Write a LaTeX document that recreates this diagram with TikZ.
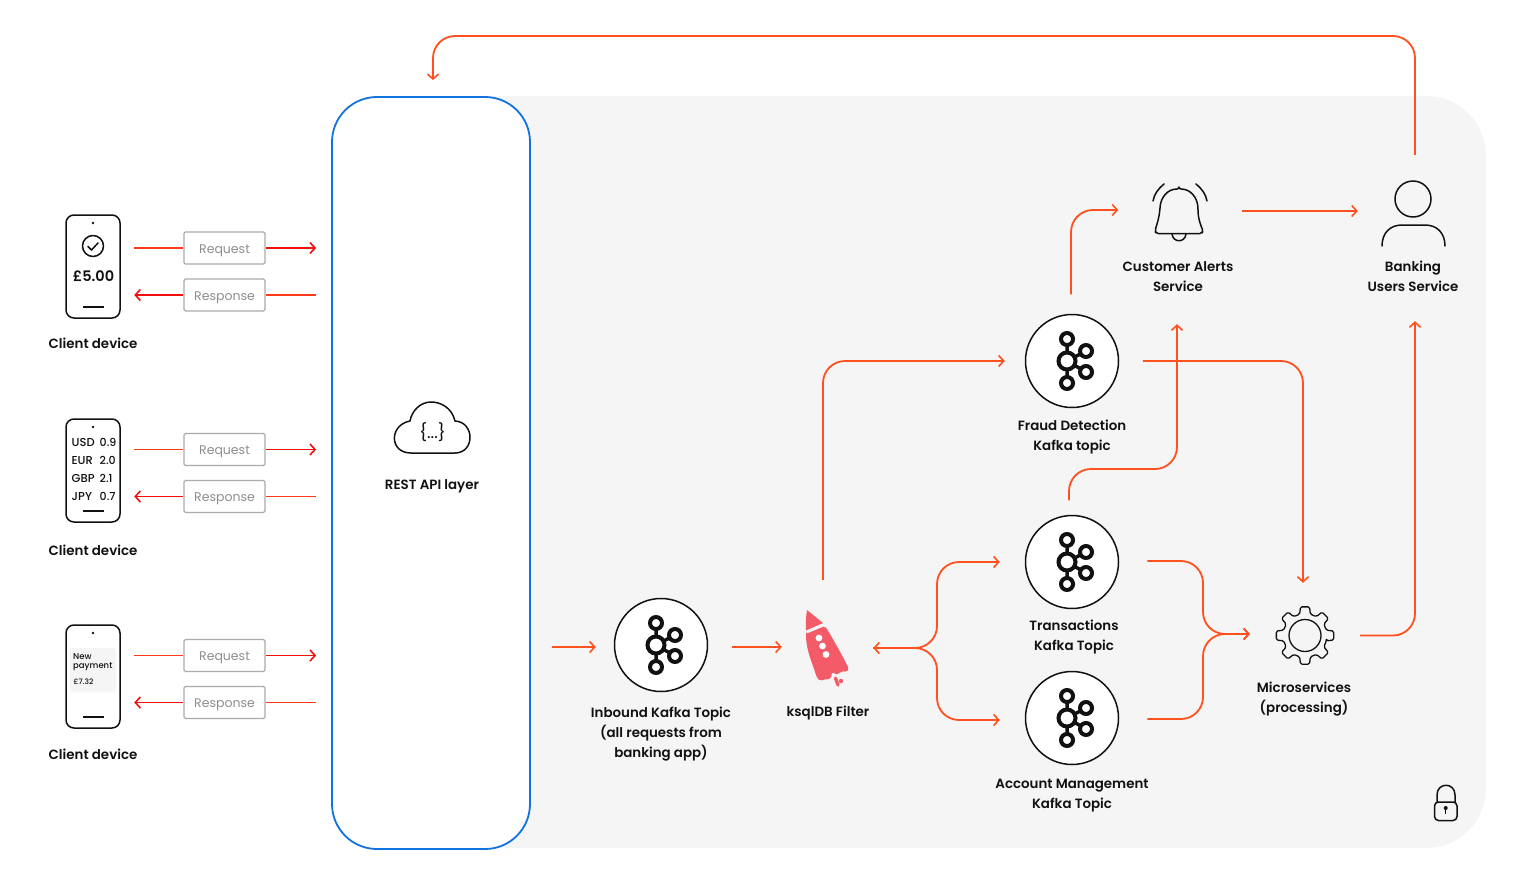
\documentclass[tikz,border=0pt]{standalone}
\usepackage{fontspec}
\setmainfont{Poppins}
\newfontfamily\labfont{Poppins SemiBold}
\newfontfamily\smfont{Poppins Medium}
\usetikzlibrary{arrows.meta,calc}
\definecolor{flowc}{HTML}{FF5020}
\definecolor{redc}{HTML}{F2100C}
\definecolor{midc}{HTML}{FF3A1A}
\definecolor{apic}{HTML}{1273DE}
\definecolor{panelc}{HTML}{F5F5F5}
\definecolor{boxc}{HTML}{ABABAB}
\definecolor{boxt}{HTML}{8E8E8E}
\definecolor{rocketc}{HTML}{F45B69}
\definecolor{ink}{HTML}{111111}
\tikzset{
  flow/.style={draw=flowc,line width=1.8pt,rounded corners=22pt,-{Straight Barb[length=5pt,width=11pt,line width=1.6pt]}},
  flowb/.style={flow,{Straight Barb[length=5pt,width=11pt,line width=1.6pt]}-{Straight Barb[length=5pt,width=11pt,line width=1.6pt]}},
  seg/.style={draw=midc,line width=1.8pt},
  segred/.style={draw=redc,line width=1.8pt,-{Straight Barb[length=5pt,width=11pt,line width=1.6pt]}},
  segredr/.style={draw=redc,line width=1.8pt,{Straight Barb[length=5pt,width=11pt,line width=1.6pt]}-},
  msg/.style={draw=boxc,line width=1.2pt,fill=white,rounded corners=1.5pt,minimum width=81pt,minimum height=32pt,inner sep=0pt,text=boxt,font=\fontsize{12.5}{15}\selectfont},
  lab/.style={align=center,inner sep=0pt,text=ink,font=\labfont\fontsize{13.4}{20}\selectfont},
  kafka/.style={circle,draw=ink,line width=1.5pt,fill=white,minimum size=93pt,inner sep=0pt},
  phone/.style={draw=ink,line width=1.5pt,rounded corners=8pt,minimum width=54pt,minimum height=103pt,inner sep=0pt},
  icon/.style={inner sep=0pt},
  ln/.style={draw=ink,line width=1.5pt,line cap=round,line join=round},
  kring/.style={draw=ink,line width=4pt,fill=white},
  small/.style={inner sep=0pt,text=ink,font=\smfont\fontsize{#1}{#1}\selectfont},
}
\newcommand{\kafkaicon}[1]{%
  \begin{scope}[shift={(#1)}]
    \draw[ink,line width=3.5pt] (-5,-22) -- (-5,22) (-5,0) -- (14,-10) (-5,0) -- (14,11);
    \draw[kring] (-5,0) circle[radius=8.5pt];
    \draw[kring] (-5,-22) circle[radius=6pt];
    \draw[kring] (-5,22) circle[radius=6pt];
    \draw[kring] (14,-10) circle[radius=6pt];
    \draw[kring] (14,11) circle[radius=6pt];
  \end{scope}}
\begin{document}
\begin{tikzpicture}[x=1pt,y=-1pt]
\useasboundingbox (0,0) rectangle (1520,888);
\fill[white] (0,0) rectangle (1520,888);
% panel and API layer
\fill[panelc,rounded corners=60pt] (400,96) rectangle (1486,848);
\node[draw=apic,line width=1.8pt,fill=white,rounded corners=45pt,minimum width=198pt,minimum height=752pt,inner sep=0pt] (api) at (431,473) {};
% kafka topics
\node[kafka] (inbound) at (661,645) {};
\node[kafka] (fraud) at (1072,361) {};
\node[kafka] (trans) at (1072,562) {};
\node[kafka] (account) at (1072,718) {};
\kafkaicon{661,645}\kafkaicon{1072,361}\kafkaicon{1072,562}\kafkaicon{1072,718}
% icon nodes
\node[icon,minimum width=50pt,minimum height=80pt] (rocket) at (827,648) {};
\node[icon,minimum width=56pt,minimum height=60pt] (bell) at (1179,212) {};
\node[icon,minimum width=64pt,minimum height=66pt] (person) at (1413,213) {};
\node[icon,minimum width=62pt,minimum height=62pt] (gear) at (1305,635.5) {};
\node[icon,minimum width=76pt,minimum height=52pt] (cloud) at (432.5,428) {};
\node[icon,minimum width=24pt,minimum height=36pt] (lock) at (1445.5,802.5) {};
% rocket
\fill[rocketc] (807,610) -- (823,623) -- (806,630.5) .. controls (805.5,622) and (806,616) .. (807,610) -- cycle;
\fill[rocketc,rounded corners=2pt] (806,634) -- (825,626) .. controls (835,642) and (843,657) .. (849,669) -- (847,672) -- (841,671) -- (838,675) -- (832,672) -- (831,679) -- (826,679) -- (820,681) -- (817,678) .. controls (813,665) and (806,650) .. (806,634) -- cycle;
\fill[white] (819,638) circle[radius=3.4pt] (822.5,646) circle[radius=3.4pt] (826,654.5) circle[radius=3.4pt];
\draw[rocketc,line width=3.4pt,line cap=round] (835.5,678) -- (838,685);
\fill[rocketc] (841,681) circle[radius=2.2pt];
% bell
\draw[ln,rounded corners=2pt] (1179,189) .. controls (1167,189) and (1161,198) .. (1160,208) .. controls (1159,219) and (1156,227) .. (1155,231) -- (1156,233.5) -- (1202,233.5) -- (1203,231) .. controls (1201,226) and (1198,219) .. (1198,208) .. controls (1197,198) and (1191,189) .. (1179,189) -- cycle;
\draw[ln] (1172,234) .. controls (1173,243) and (1185,243) .. (1186,234);
\draw[ln] (1153,201) .. controls (1154,194) and (1159,188) .. (1164,184);
\draw[ln] (1207,201) .. controls (1206,194) and (1201,188) .. (1196,184);
% person
\draw[ln] (1413,199) circle[radius=18pt];
\draw[ln] (1382,246) .. controls (1382,233) and (1390,225) .. (1402,225) -- (1425,225) .. controls (1437,225) and (1445,233) .. (1445,246);
% gear
\draw[ln,line width=1.3pt,rounded corners=1.5pt,shift={(1305,635.5)}] (-14:22pt)
  \foreach \a in {0,45,...,315}{ -- ({\a-14}:22pt) -- ({\a-9}:29pt) -- ({\a+9}:29pt) -- ({\a+14}:22pt)} -- cycle;
\draw[ln,line width=1.3pt] (1305,635.5) circle[radius=16pt];
% cloud
\draw[ln] (411,453) -- (455,453) .. controls (475,453) and (475,422) .. (455,421) .. controls (452,408) and (441,402) .. (431,402) .. controls (421,402) and (412,410) .. (410,421) .. controls (389,425) and (389,453) .. (411,453) -- cycle;
\node[inner sep=0pt,text=ink,font=\fontsize{17}{17}\selectfont] (cloudtext) at (432.5,432) {\{...\}};
% lock
\draw[ln,rounded corners=4pt] (1434.5,802) rectangle (1457,820.5);
\draw[ln] (1437,802) -- (1437,795) .. controls (1437,782) and (1455,782) .. (1455,795) -- (1455,802);
\fill[ink] (1445.7,808) circle[radius=2pt];
\draw[ink,line width=1.3pt] (1445.7,808) -- (1445.7,814);
% labels
\node[lab] (apilab) at (432,486) {REST API layer};
\node[lab] (inlab) at (661,734) {Inbound Kafka Topic\\(all requests from\\banking app)};
\node[lab] (rocklab) at (828,713) {ksqlDB Filter};
\node[lab] (frlab) at (1072,437) {Fraud Detection\\Kafka topic};
\node[lab] (trlab) at (1074,637) {Transactions\\Kafka Topic};
\node[lab] (aclab) at (1072,796) {Account Management\\Kafka Topic};
\node[lab] (belllab) at (1178,277) {Customer Alerts\\Service};
\node[lab] (perlab) at (1413,276) {Banking\\Users Service};
\node[lab] (gearlab) at (1304,699.5) {Microservices\\(processing)};
% flows
\coordinate (branch) at (937,648);
\coordinate (merge) at (1203,634);
\coordinate (topline) at (900,36);
\coordinate (fmid) at (1120,469);
\coordinate (infree) at (552,647);
\draw[flow] (infree) -- ([shift={(-18pt,-2pt)}]inbound.west);
\draw[flow] ([shift={(23.5pt,-2pt)}]inbound.east) -- ([shift={(-20pt,1pt)}]rocket.west);
\draw[flow] ([shift={(-4pt,28pt)}]rocket.north) |- ([shift={(-20pt,0pt)}]fraud.west);
\draw[flow] ([shift={(23.5pt,0pt)}]fraud.east) -| ([shift={(-2pt,21.5pt)}]gear.north);
\draw[flow] ([shift={(-1pt,19.5pt)}]fraud.north) |- ([shift={(-32.5pt,2pt)}]bell.west);
\draw[flow] ([shift={(35pt,1pt)}]bell.east) -- ([shift={(-23pt,2pt)}]person.west);
\draw[flow] ([shift={(2pt,25pt)}]person.north) |- (topline) -| ([shift={(2pt,16pt)}]api.north);
\draw[flow] ([shift={(-3pt,14.5pt)}]trans.north) |- (fmid) -| ([shift={(-2pt,-82pt)}]bell.south);
\draw[flowb] ([shift={(21pt,0pt)}]rocket.east) -- (branch) |- ([shift={(-25pt,0pt)}]trans.west);
\draw[flow] ([shift={(21pt,0pt)}]rocket.east) -- (branch) |- ([shift={(-25pt,-2pt)}]account.west);
\draw[flow] ([shift={(28pt,1pt)}]trans.east) -| (merge) -- ([shift={(-24pt,1.5pt)}]gear.west);
\draw[flow] ([shift={(28pt,-1pt)}]account.east) -| (merge) -- ([shift={(-24pt,1.5pt)}]gear.west);
\draw[flow] ([shift={(24pt,0pt)}]gear.east) -| ([shift={(2pt,-75pt)}]person.south);
% client rows
\node[phone] (ph1) at (93,266.5) {};
\node[phone] (ph2) at (93,470.5) {};
\node[phone] (ph3) at (93,676.5) {};
\foreach \n/\yy/\d/\b in {1/266.5/223/307,2/470.5/427/511,3/676.5/633/717}{
  \fill[ink] (93,\d) circle[radius=1.4pt];
  \draw[ink,line width=1.5pt] (83,\b) -- (104,\b);
}
\node[lab] (cl1) at (93,343) {Client device};
\node[lab] (cl2) at (93,550) {Client device};
\node[lab] (cl3) at (93,754.5) {Client device};
% phone 1
\draw[ln] (93,246) circle[radius=10.5pt];
\draw[ln] (88,246.5) -- (91.5,250) -- (98,243);
\node[inner sep=0pt,text=ink,font=\labfont\fontsize{14.5}{14.5}\selectfont] (amt) at (93.5,276) {£5.00};
% phone 2
\foreach \nm/\cur/\val/\yy in {a/USD/0.9/442,b/EUR/2.0/460.5,c/GBP/2.1/478.5,d/JPY/0.7/496.5}{
  \node[small=11.5,anchor=west] (cur\nm) at (71.5,\yy) {\cur};
  \node[small=11,anchor=west] (val\nm) at (99.5,\yy) {\val};
}
% phone 3
\fill[panelc,rounded corners=3pt] (70,648) rectangle (116,692);
\node[small=8.5,anchor=west] (pay1) at (73,656.5) {New};
\node[small=8.5,anchor=west] (pay2) at (73,666.5) {payment};
\node[small=7.5,anchor=west] (pay3) at (73.5,681.5) {£7.32};
% messages
\foreach \i/\ya/\yb in {1/248/295,2/449.5/496.5,3/655.5/702.5}{
  \node[msg] (req\i) at (224.5,\ya) {\rule{0pt}{13.3pt}Request};
  \node[msg] (res\i) at (224.5,\yb) {\rule{0pt}{13.3pt}Response};
  \draw[seg] ([xshift=13.5pt]ph\i.east |- req\i.west) -- (req\i.west);
  \draw[segred] (req\i.east) -- ([xshift=-15pt]api.west |- req\i.east);
  \draw[segredr] ([xshift=13.5pt]ph\i.east |- res\i.west) -- (res\i.west);
  \draw[seg] (res\i.east) -- ([xshift=-15pt]api.west |- res\i.east);
}
\end{tikzpicture}
\end{document}
